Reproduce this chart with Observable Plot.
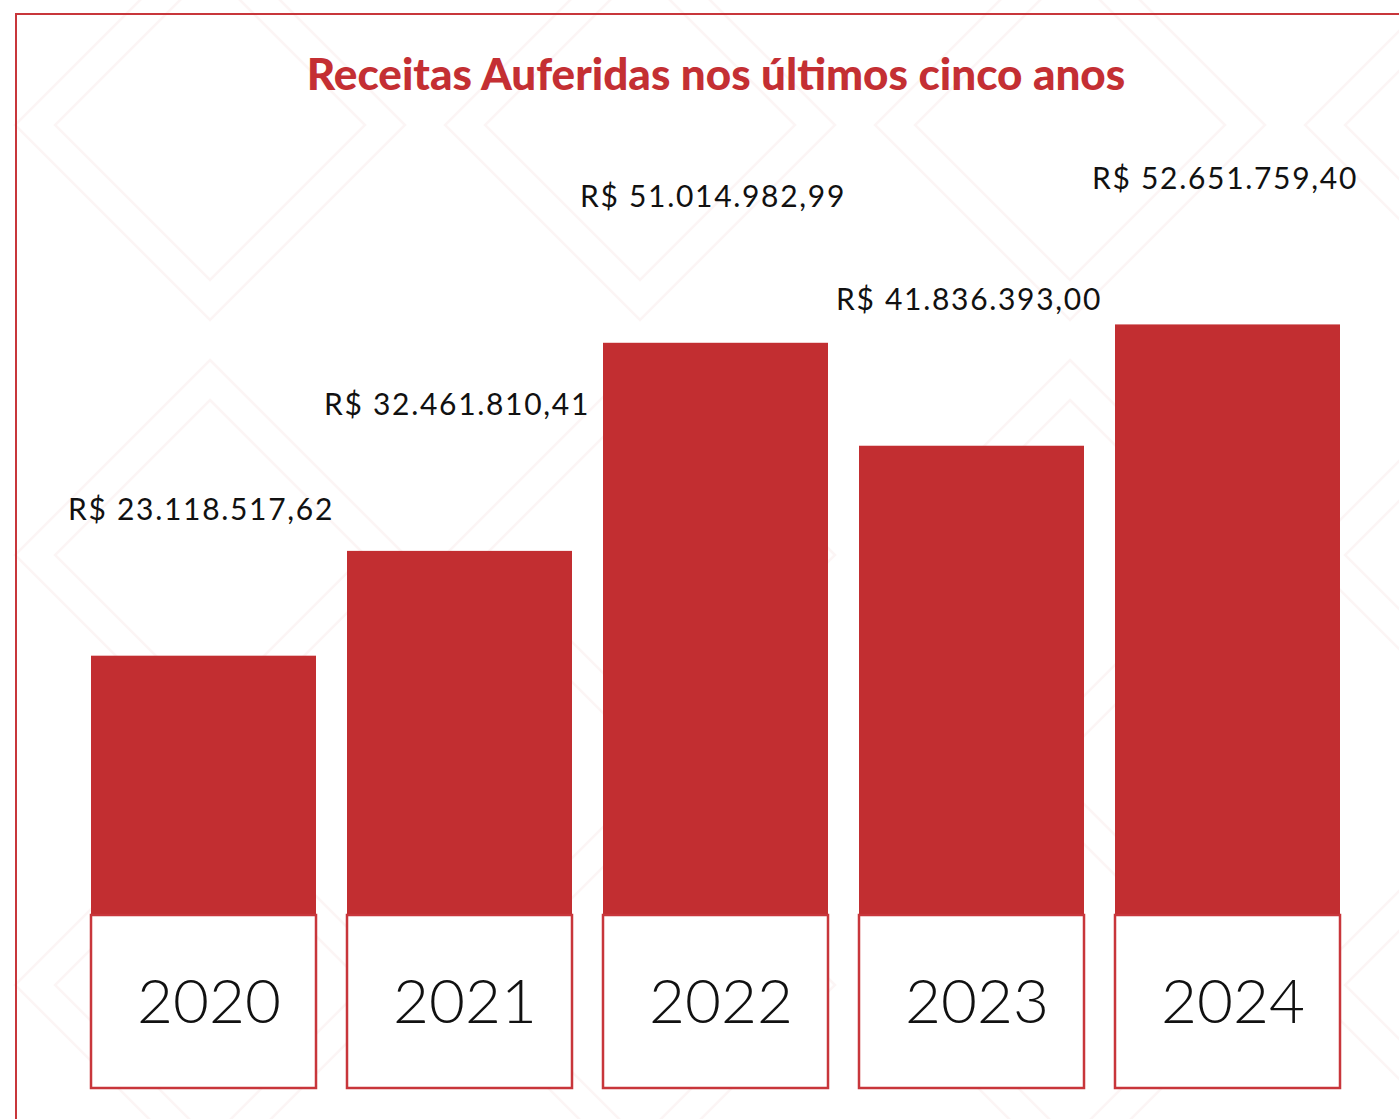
<!DOCTYPE html>
<html>
<head>
<meta charset="utf-8">
<script src="https://cdn.jsdelivr.net/npm/d3@7"></script>
<script src="https://cdn.jsdelivr.net/npm/@observablehq/plot@0.6"></script>
<style>
  html, body { margin: 0; padding: 0; background: #fff; overflow: hidden; width: 1399px; height: 1119px; }
  body {
    background-image: url("data:image/svg+xml;utf8,<svg xmlns='http://www.w3.org/2000/svg' width='430' height='430'><g fill='none' stroke='%23fcf5f5' stroke-width='2.5'><path d='M215 20 L410 215 L215 410 L20 215 Z'/><path d='M215 60 L370 215 L215 370 L60 215 Z'/></g></svg>");
    background-position: -5px -90px;
  }
  #frame { position: absolute; left: 15px; top: 13px; width: 1500px; height: 1200px; border: 2.5px solid #C8363B; box-sizing: border-box; }
  #wrap { position: relative; }
  #title { height: 120px; box-sizing: border-box; padding-top: 49px; text-align: center; font-family: Lato, sans-serif; font-weight: 900; font-size: 44px; line-height: 48px; color: #C42F33; padding-left: 33px; }
</style>
</head>
<body>
<div id="frame"></div>
<div id="wrap">
  <div id="title">Receitas Auferidas nos últimos cinco anos</div>
  <div id="chart"></div>
</div>
<script>
const years = ["2020", "2021", "2022", "2023", "2024"];
const values = [23118517.62, 32461810.41, 51014982.99, 41836393.00, 52651759.40];
const labels = ["R$ 23.118.517,62", "R$ 32.461.810,41", "R$ 51.014.982,99", "R$ 41.836.393,00", "R$ 52.651.759,40"];

const data = years.map((y, i) => ({year: y, value: values[i], label: labels[i]}));

const red = "#C22E31";

const chart = Plot.plot({
  width: 1399,
  height: 999,
  marginLeft: 90,
  marginRight: 59,
  marginTop: 122,
  marginBottom: 204,
  style: {background: "transparent", overflow: "visible"},
  x: {domain: years, paddingInner: 0.123, paddingOuter: 0, axis: null},
  y: {domain: [0, 60000000], axis: null},
  marks: [
    Plot.barY(data, {x: "year", y: "value", fill: red}),
    Plot.barY(data, {x: "year", y1: 0, y2: 0, insetBottom: -173, fill: "#fff", stroke: "#C8363B", strokeWidth: 2.5}),
    Plot.text(data, {x: "year", y: "value", text: "label", dy: -146, dx: -3, fontSize: 30, fill: "#111", fontFamily: "Lato, sans-serif"}),
    Plot.text(data, {x: "year", y: 0, text: "year", dy: 88, dx: 5, fontSize: 62, fill: "#111", fontFamily: "Lato, sans-serif", fontWeight: 300})
  ]
});
const textGroups = chart.querySelectorAll('g[aria-label="text"]');
if (textGroups.length) textGroups[0].style.letterSpacing = "1.7px";
document.getElementById("chart").appendChild(chart);
</script>
</body>
</html>
